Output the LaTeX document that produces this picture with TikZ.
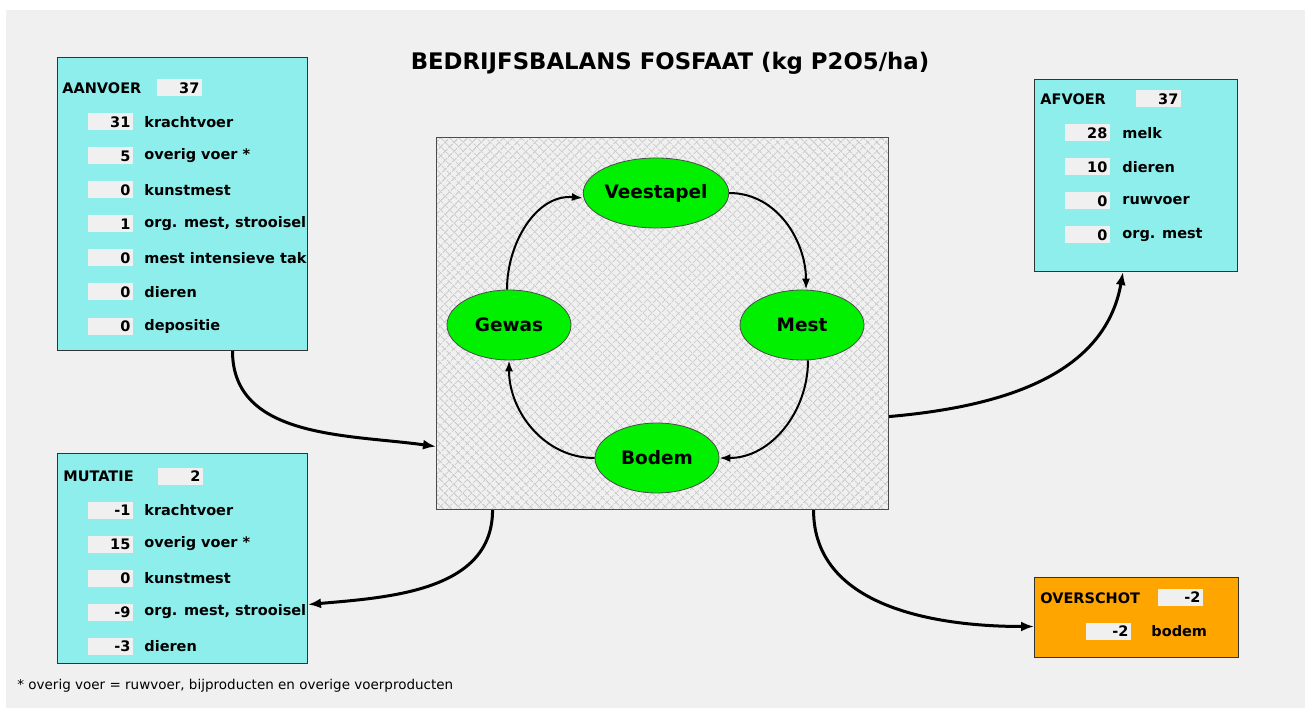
\documentclass[tikz,border=0pt]{standalone}
\usepackage{fontspec}
\setmainfont{DejaVu Sans}
\usetikzlibrary{arrows.meta,shapes.geometric,patterns.meta}
\definecolor{bggrey}{RGB}{240,240,240}
\definecolor{boxcyan}{RGB}{142,238,236}
\definecolor{boxorange}{RGB}{255,165,0}
\definecolor{hatchgrey}{RGB}{200,200,200}
\definecolor{cellgreen}{RGB}{0,240,0}
\begin{document}
\begin{tikzpicture}[x=1pt, y=-1pt, thick,
    panel/.style = {draw=black!80, line width=1pt, anchor=north west, inner sep=0pt},
    head/.style = {anchor=west, inner sep=0pt, font=\fontsize{14.5}{15}\bfseries},
    lbl/.style = {anchor=west, inner sep=0pt, font=\fontsize{14.5}{15}\bfseries},
    val/.style = {anchor=west, fill=bggrey, text width=39pt, align=right, inner xsep=3pt, inner ysep=0pt, minimum height=17pt, font=\fontsize{14.5}{15}\bfseries},
    cell/.style = {draw=black!70, ellipse, fill=cellgreen, minimum width=124pt, minimum height=70pt, inner sep=0pt, font=\fontsize{18.5}{19}\bfseries},
    cycle/.style = {line width=2pt, -{Latex[length=11pt,width=8pt]}},
    flow/.style = {line width=3pt, -{Latex[length=13pt,width=10pt]}}]
    \useasboundingbox (0,0) rectangle (1305,708);
    \fill[bggrey] (6,10) rectangle (1305,708);

    \node[anchor=center, font=\fontsize{22.8}{23}\bfseries] (title) at (670,63) {BEDRIJFSBALANS FOSFAAT (kg P2O5/ha)};

    % kringloop
    \node[panel, draw=black!70, minimum width=452pt, minimum height=372pt,
        preaction={fill=bggrey},
        preaction={pattern={Lines[angle=45,distance=6.4pt,line width=1.1pt]}, pattern color=hatchgrey},
        pattern={Lines[angle=-45,distance=6.4pt,line width=1.1pt]}, pattern color=hatchgrey]
        (kern) at (436,137) {};
    \node[cell] (vee) at (656,193) {Veestapel};
    \node[cell] (mest) at (802,325) {Mest};
    \node[cell] (bodem) at (657,458) {Bodem};
    \node[cell] (gewas) at (509,325) {Gewas};

    \draw[cycle] ([xshift=-2pt]gewas.north) to[out=90, in=175] ([yshift=-5pt]vee.west);
    \draw[cycle] (vee.east) to[out=0, in=90] ([xshift=4pt]mest.north);
    \draw[cycle] ([xshift=6pt]mest.south) to[out=-90, in=0] (bodem.east);
    \draw[cycle] (bodem.west) to[out=180, in=-90] (gewas.south);

    % aanvoer
    \node[panel, fill=boxcyan, minimum width=250pt, minimum height=293pt] (aan) at (57,57) {};
    \node[head] (aanh) at (62,88) {AANVOER};
    \node[val] (aanv) at (157,88) {37};
    \foreach \v/\t [count=\i] in {31/krachtvoer, 5/overig voer *, 0/kunstmest, 1/{org. mest, strooisel}, 0/mest intensieve tak, 0/dieren, 0/depositie}
    {
        \node[val] (aanv\i) at (88,{122+34*(\i-1)}) {\v};
        \node[lbl] (aanl\i) at (144,{122+34*(\i-1)}) {\t};
    }

    % afvoer
    \node[panel, fill=boxcyan, minimum width=203pt, minimum height=192pt] (af) at (1034,79) {};
    \node[head] (afh) at (1040,99) {AFVOER};
    \node[val] (afv) at (1136,99) {37};
    \foreach \v/\t [count=\i] in {28/melk, 10/dieren, 0/ruwvoer, 0/org. mest}
    {
        \node[val] (afv\i) at (1065,{133+34*(\i-1)}) {\v};
        \node[lbl] (afl\i) at (1122,{133+34*(\i-1)}) {\t};
    }

    % mutatie
    \node[panel, fill=boxcyan, minimum width=250pt, minimum height=210pt] (mut) at (57,453) {};
    \node[head] (muth) at (63,476) {MUTATIE};
    \node[val] (mutv) at (158,476) {2};
    \foreach \v/\t [count=\i] in {-1/krachtvoer, 15/overig voer *, 0/kunstmest, -9/{org. mest, strooisel}, -3/dieren}
    {
        \node[val] (mutv\i) at (88,{510+34*(\i-1)}) {\v};
        \node[lbl] (mutl\i) at (144,{510+34*(\i-1)}) {\t};
    }

    % overschot
    \node[panel, fill=boxorange, minimum width=204pt, minimum height=80pt] (over) at (1034,577) {};
    \node[head] (overh) at (1040,598) {OVERSCHOT};
    \node[val] (overv) at (1158,597) {-2};
    \node[val] (overv1) at (1086,631) {-2};
    \node[lbl] (overl1) at (1151,631) {bodem};

    \draw[flow] ([xshift=50pt]aan.south) to[out=-90, in=172] ([yshift=-123pt]kern.west);
    \draw[flow] ([yshift=-93pt]kern.east) to[out=5, in=-100] ([xshift=-13pt]af.south);
    \draw[flow] ([xshift=-170pt]kern.south) to[out=-90, in=5] ([yshift=-46pt]mut.east);
    \draw[flow] ([xshift=151pt]kern.south) to[out=-90, in=180] ([yshift=-9pt]over.west);

    \node[anchor=west, inner sep=0pt, font=\fontsize{13.5}{14}\selectfont] (noot) at (17,686) {* overig voer = ruwvoer, bijproducten en overige voerproducten};
\end{tikzpicture}
\end{document}
